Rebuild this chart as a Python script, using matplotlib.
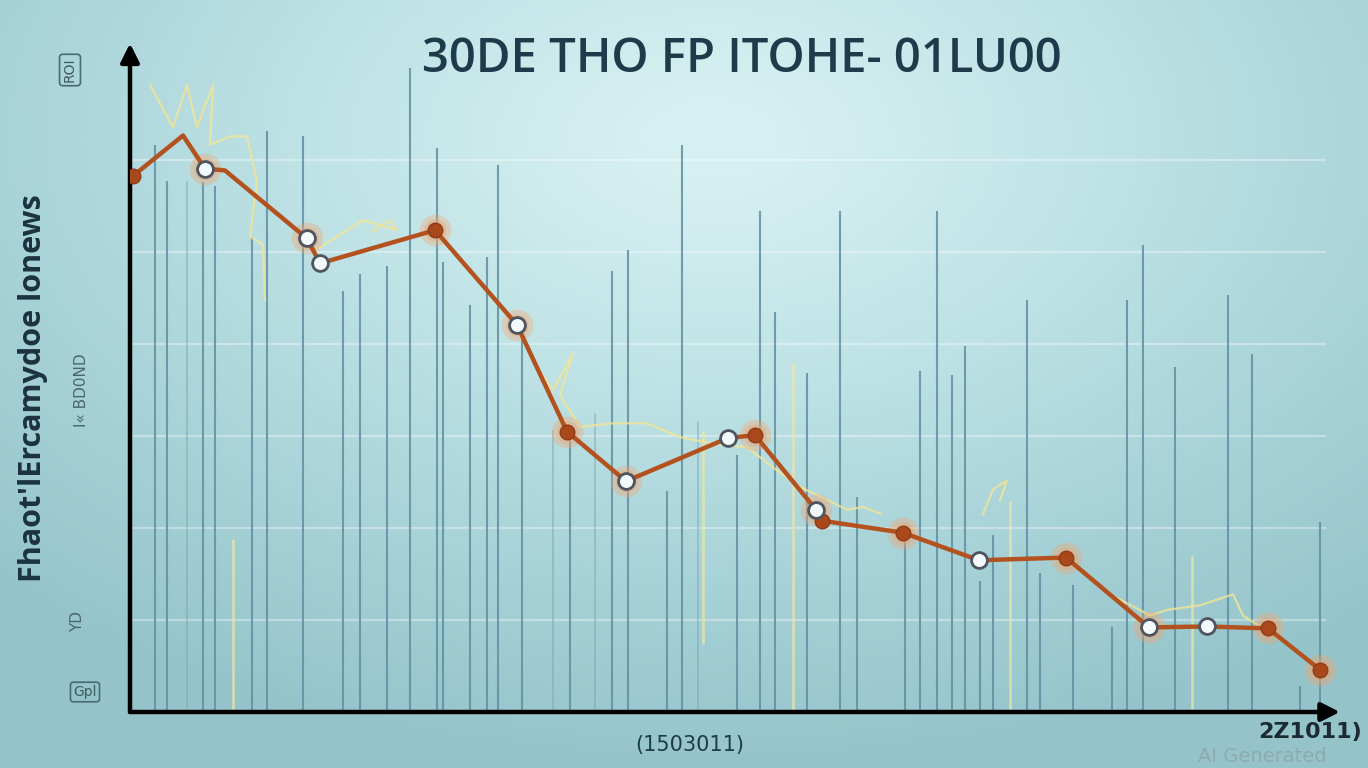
import numpy as np
import matplotlib
matplotlib.use("Agg")
import matplotlib.pyplot as plt
from matplotlib.colors import LinearSegmentedColormap

# ---------------- texts ----------------
title = "30DE THO FP ITOHE- 01LU00"
ylabel = "Fhaot'lErcamydoe lonews"
ylabel2 = "I« BD0ND"
xlabel = "(1503011)"
xend_label = "2Z1011)"
corner_top = "ROI"
corner_mid = "YD"
corner_bottom = "Gpl"
watermark = "AI Generated"

# ---------------- main trend series ----------------
trend_x = [0.3, 5.3, 7.5, 9.5, 17.7, 19.0, 30.5, 38.7, 43.7, 49.6, 59.8,
           62.5, 68.6, 69.2, 77.3, 84.9, 93.6, 101.9, 107.7, 113.8, 119.0]
trend_y = [5.83, 6.27, 5.91, 5.89, 5.15, 4.88, 5.24, 4.21, 3.05, 2.51, 2.98,
           3.01, 2.20, 2.08, 1.95, 1.65, 1.68, 0.92, 0.93, 0.91, 0.46]
marker_kind = ["dark", None, "white", None, "white", "white", "dark", "white",
               "dark", "white", "white", "dark", "white", "dark", "dark",
               "white", "dark", "white", "white", "dark", "dark"]
halo = [False, False, True, False, True, False, True, True, True, True, False,
        True, True, False, True, False, True, True, False, True, True]

# ---------------- vertical stems (blue) ----------------
stem_x = [2.5, 3.7, 7.3, 8.5, 12.2, 13.7, 17.3, 21.3, 23.0, 25.7, 28.0, 30.7,
          31.3, 34.0, 35.7, 36.8, 39.2, 44.0, 48.2, 49.8, 53.7, 55.2, 60.7,
          63.0, 64.5, 67.7, 71.0, 72.7, 77.5, 79.0, 80.7, 82.2, 83.5, 85.0,
          86.3, 89.7, 91.0, 94.3, 98.2, 99.7, 101.3, 104.5, 109.8, 112.2,
          117.0, 119.0]
stem_h = [6.17, 5.78, 5.76, 5.72, 5.17, 6.32, 6.26, 4.58, 4.76, 4.85, 7.00,
          6.13, 4.89, 4.43, 4.95, 5.95, 4.12, 2.98, 4.80, 5.03, 2.40, 6.17,
          2.79, 5.45, 4.35, 3.69, 5.45, 2.34, 1.92, 3.71, 5.45, 3.66, 3.98,
          1.42, 1.92, 4.48, 1.51, 1.38, 0.92, 4.48, 5.08, 3.75, 4.53, 3.89,
          0.28, 2.07]
faint_stem_x = [5.7, 42.3, 46.5, 56.8]
faint_stem_h = [5.78, 3.07, 3.25, 3.16]

# ---------------- pale yellow stems ----------------
ystem_x = [10.3, 57.3, 66.3, 88.0, 106.2]
ystem_lo = [0.0, 0.74, 0.0, 0.0, 0.0]
ystem_hi = [1.88, 3.07, 3.79, 2.29, 1.70]

# ---------------- pale yellow squiggle series ----------------
squig_a_x = [2.0, 4.3, 5.7, 6.7, 8.3, 8.0, 10.0, 11.7, 12.7, 12.0, 13.3, 13.5]
squig_a_y = [6.82, 6.36, 6.82, 6.36, 6.82, 6.17, 6.26, 6.26, 5.76, 5.17, 5.08, 4.48]
squig_b_x = [18.7, 20.7, 23.3, 26.7, 26.0, 24.2]
squig_b_y = [5.03, 5.17, 5.35, 5.24, 5.35, 5.22]
squig_c_x = [40.0, 42.3, 44.3, 43.0, 45.0, 48.3, 51.7, 55.0, 58.3, 61.7, 64.3,
             67.0, 71.7, 73.3, 75.0]
squig_c_y = [3.86, 3.50, 3.90, 3.45, 3.10, 3.14, 3.14, 2.99, 2.92, 2.88, 2.66,
             2.45, 2.20, 2.23, 2.16]
squig_d_x = [85.3, 86.3, 87.7, 87.0]
squig_d_y = [2.15, 2.42, 2.52, 2.30]
squig_e_x = [98.7, 102.0, 103.7, 107.0, 110.3, 111.3, 113.7]
squig_e_y = [1.24, 1.05, 1.11, 1.16, 1.28, 1.05, 0.88]

grid_levels = [1, 2, 3, 4, 5, 6]

# =====================================================
W, H = 1368, 768
fig = plt.figure(figsize=(W / 100, H / 100), dpi=100)

# background gradient
bg = fig.add_axes([0, 0, 1, 1], zorder=-10)
bg.axis("off")
gx, gy = np.meshgrid(np.linspace(0, 1, 400), np.linspace(0, 1, 240))
d = np.sqrt(((gx - 0.52) / 1.0) ** 2 + ((gy - 0.18) / 1.1) ** 2)
cmap_bg = LinearSegmentedColormap.from_list(
    "bg", ["#d6f0f1", "#c0e3e6", "#a8d3d8", "#94c4ca"])
bg.imshow(d, cmap=cmap_bg, aspect="auto", extent=[0, 1, 0, 1],
          origin="upper", vmin=0.05, vmax=0.75)

ax = fig.add_axes([130 / W, 1 - 712 / H, (1340 - 130) / W, (712 - 50) / H])
ax.set_facecolor("none")
ax.set_xlim(0, 121)
ax.set_ylim(0, 7.2)
for s in ax.spines.values():
    s.set_visible(False)
ax.set_xticks([])
ax.set_yticks([])

# horizontal grid
for g in grid_levels:
    ax.plot([0, 119.5], [g, g], color="white", lw=1.6, alpha=0.35, zorder=1)

# stems
ax.vlines(stem_x, 0, stem_h, color="#5f8fa2", lw=1.5, alpha=0.85, zorder=2)
ax.vlines(faint_stem_x, 0, faint_stem_h, color="#7ea6b4", lw=1.4, alpha=0.5, zorder=2)
ax.vlines(ystem_x, ystem_lo, ystem_hi, color="#efe6a4", lw=1.8, alpha=0.75, zorder=2)

# yellow squiggles
for sx, sy in [(squig_a_x, squig_a_y), (squig_b_x, squig_b_y),
               (squig_c_x, squig_c_y), (squig_d_x, squig_d_y),
               (squig_e_x, squig_e_y)]:
    ax.plot(sx, sy, color="#f2e596", lw=1.6, alpha=0.8, zorder=3)

# halos
hx = [x for x, h in zip(trend_x, halo) if h]
hy = [y for y, h in zip(trend_y, halo) if h]
ax.scatter(hx, hy, s=520, color="#f4a56f", alpha=0.35, lw=0, zorder=4)
ax.scatter(hx, hy, s=260, color="#f2a066", alpha=0.35, lw=0, zorder=4)

# main line
ax.plot(trend_x, trend_y, color="#b4521f", lw=3.2, solid_joinstyle="round",
        zorder=5)
dx = [x for x, k in zip(trend_x, marker_kind) if k == "dark"]
dy = [y for y, k in zip(trend_y, marker_kind) if k == "dark"]
wx = [x for x, k in zip(trend_x, marker_kind) if k == "white"]
wy = [y for y, k in zip(trend_y, marker_kind) if k == "white"]
ax.scatter(dx, dy, s=110, color="#a9481b", edgecolor="#8f3c17", lw=1, zorder=6)
ax.scatter(wx, wy, s=130, color="#f3f8fa", edgecolor="#4e5560", lw=2.0, zorder=7)

# axes arrows
ax.annotate("", xy=(0, 1.01), xytext=(0, 0), xycoords="axes fraction",
            arrowprops=dict(arrowstyle="-|>", lw=3.2, color="black",
                            mutation_scale=28, shrinkA=0, shrinkB=0),
            annotation_clip=False)
ax.annotate("", xy=(1.0, 0), xytext=(0, 0), xycoords="axes fraction",
            arrowprops=dict(arrowstyle="-|>", lw=3.2, color="black",
                            mutation_scale=28, shrinkA=0, shrinkB=0),
            annotation_clip=False)

# texts
fig.text(742 / W, 1 - 60 / H, title, ha="center", va="center", fontsize=34,
         family="Open Sans", fontweight="semibold", color="#1f3a4b")
fig.text(33 / W, 1 - 388 / H, ylabel, ha="center", va="center", rotation=90,
         fontsize=22, family="Open Sans", fontweight="bold", color="#1c3240")
fig.text(82 / W, 1 - 390 / H, ylabel2, ha="center", va="center", rotation=90,
         fontsize=11, family="DejaVu Sans", color="#4a6670")
fig.text(70 / W, 1 - 70 / H, corner_top, ha="center", va="center", rotation=90,
         fontsize=10, color="#3e5a63",
         bbox=dict(boxstyle="round,pad=0.25", fc="none", ec="#4a6a72", lw=1.2))
fig.text(78 / W, 1 - 622 / H, corner_mid, ha="center", va="center", rotation=90,
         fontsize=11, color="#4a6670")
fig.text(85 / W, 1 - 692 / H, corner_bottom, ha="center", va="center",
         fontsize=10, color="#3e5a63",
         bbox=dict(boxstyle="round,pad=0.2", fc="none", ec="#4a6a72", lw=1.2))
fig.text(690 / W, 1 - 745 / H, xlabel, ha="center", va="center", fontsize=15,
         color="#1f3a4b")
fig.text(1262 / W, 1 - 757 / H, watermark, ha="center", va="center",
         fontsize=14, color="#8fa6ad", alpha=0.9)
fig.text(1310 / W, 1 - 732 / H, xend_label, ha="center", va="center",
         fontsize=16, fontweight="bold", color="#1c2a33")

fig.savefig("out.png", dpi=100)
